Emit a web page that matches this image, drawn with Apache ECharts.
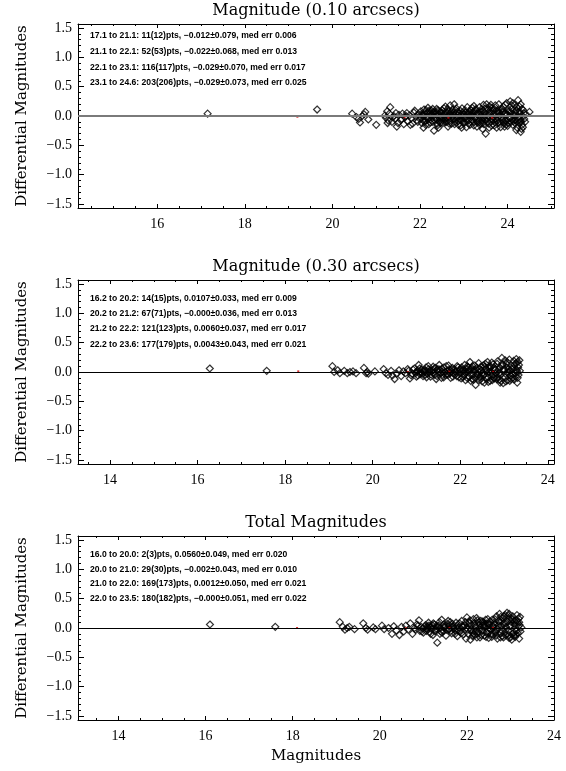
<!DOCTYPE html>
<html><head><meta charset="utf-8">
<script src="https://cdn.jsdelivr.net/npm/echarts@6/dist/echarts.min.js"></script>
<style>html,body{margin:0;padding:0;background:#fff}#c{width:566px;height:771px}</style>
</head><body><div id="c"></div>
<script>
// ---------------- DATA ----------------
const titles = ['Magnitude (0.10 arcsecs)', 'Magnitude (0.30 arcsecs)', 'Total Magnitudes'];
const yName = 'Differential Magnitudes';
const xName = 'Magnitudes';
const yTicks = [-1.5, -1.0, -0.5, 0.0, 0.5, 1.0, 1.5];
const yRange = [-1.568, 1.568];
const xTicks1 = [16, 18, 20, 22, 24];
const xTicks2 = [14, 16, 18, 20, 22, 24];
const xTicks3 = [14, 16, 18, 20, 22, 24];
const xRange1 = [14.19, 25.06];
const xRange2 = [13.27, 24.14];
const xRange3 = [13.07, 24.0];

const annot1 = [
  '17.1 to 21.1: 11(12)pts, \u22120.012\u00b10.079, med err 0.006',
  '21.1 to 22.1: 52(53)pts, \u22120.022\u00b10.068, med err 0.013',
  '22.1 to 23.1: 116(117)pts, \u22120.029\u00b10.070, med err 0.017',
  '23.1 to 24.6: 203(206)pts, \u22120.029\u00b10.073, med err 0.025'
];
const annot2 = [
  '16.2 to 20.2: 14(15)pts, 0.0107\u00b10.033, med err 0.009',
  '20.2 to 21.2: 67(71)pts, \u22120.000\u00b10.036, med err 0.013',
  '21.2 to 22.2: 121(123)pts, 0.0060\u00b10.037, med err 0.017',
  '22.2 to 23.6: 177(179)pts, 0.0043\u00b10.043, med err 0.021'
];
const annot3 = [
  '16.0 to 20.0: 2(3)pts, 0.0560\u00b10.049, med err 0.020',
  '20.0 to 21.0: 29(30)pts, \u22120.002\u00b10.043, med err 0.010',
  '21.0 to 22.0: 169(173)pts, 0.0012\u00b10.050, med err 0.021',
  '22.0 to 23.5: 180(182)pts, \u22120.000\u00b10.051, med err 0.022'
];

const pts1 = [
[17.15,0.04],[19.65,0.11],
[20.45,0.04],[20.55,-0.02],[20.6,-0.05],[20.63,-0.11],[20.68,0.0],[20.72,0.03],[20.75,0.07],[20.82,-0.06],[21.0,-0.15],
[21.2,0.01],[21.22,-0.03],[21.25,0.08],[21.28,-0.08],[21.32,0.15],[21.3,0.04],[21.36,-0.1],[21.4,0.0],[21.43,-0.05],[21.47,-0.18],[21.5,-0.12],[21.52,0.02],[21.56,-0.07],[21.6,0.04],[21.63,-0.14],[21.66,-0.02],[21.7,0.05],[21.72,-0.09],[21.76,0.01],[21.8,-0.04],[21.83,-0.13],[21.86,0.06],[21.9,-0.01],[21.93,-0.07],[21.97,0.03],
[22.0,-0.05],[22.02,0.08],[22.04,-0.12],[22.06,0.02],[22.08,-0.2],[22.1,0.05],[22.12,-0.08],[22.14,0.1],[22.16,-0.02],[22.18,0.14],[22.2,-0.14],[22.22,0.04],[22.24,-0.06],[22.26,0.09],[22.28,-0.1],[22.3,0.0],[22.32,-0.25],[22.34,0.07],[22.36,-0.04],[22.38,0.12],[22.4,-0.16],[22.42,0.03],[22.44,-0.09],[22.46,0.06],[22.48,-0.02],[22.5,0.1],[22.52,-0.12],[22.54,0.01],[22.56,-0.06],[22.58,0.16],[22.6,-0.03],[22.62,0.05],[22.64,-0.18],[22.66,0.08],[22.68,-0.08],[22.7,0.02],[22.72,-0.13],[22.74,0.11],[22.76,-0.05],[22.78,0.2],[22.8,-0.1],[22.82,0.04],[22.84,-0.02],[22.86,0.07],[22.88,-0.15],[22.9,0.0],[22.92,0.09],[22.94,-0.07],[22.96,0.13],[22.98,-0.11],[23.0,0.03],[23.02,-0.04],[23.04,0.06],[23.06,-0.19],[23.08,0.15],[23.1,-0.08],
[22.05,0.0],[22.15,-0.03],[22.25,0.01],[22.35,-0.01],[22.45,-0.03],[22.55,0.03],[22.65,-0.01],[22.75,0.0],[22.85,-0.04],[22.95,0.01],[23.05,-0.02],[22.11,-0.1],[22.31,0.06],[22.51,-0.07],[22.71,0.07],[22.91,-0.06],[22.21,0.09],[22.41,0.1],[22.61,-0.1],[22.81,0.1],[23.01,-0.12],[22.69,0.18],
[23.12,0.04],[23.14,-0.15],[23.16,0.1],[23.18,-0.06],[23.2,0.0],[23.22,-0.1],[23.24,0.08],[23.26,-0.02],[23.28,0.12],[23.3,-0.18],[23.32,0.05],[23.34,-0.05],[23.36,0.15],[23.38,-0.12],[23.4,0.02],[23.42,-0.08],[23.44,0.09],[23.46,-0.14],[23.48,0.0],[23.5,-0.3],[23.52,0.2],[23.54,-0.04],[23.56,0.11],[23.58,-0.2],[23.6,0.06],[23.62,-0.09],[23.64,0.14],[23.66,-0.02],[23.68,0.03],[23.7,-0.16],[23.72,0.18],[23.74,-0.07],[23.76,0.08],[23.78,-0.12],[23.8,0.2],[23.82,0.0],[23.84,-0.19],[23.86,0.1],[23.88,-0.05],[23.9,0.16],[23.92,-0.13],[23.94,0.04],[23.96,-0.08],[23.98,0.22],[24.0,-0.17],[24.02,0.07],[24.04,-0.03],[24.06,0.25],[24.08,-0.1],[24.1,0.12],[24.12,-0.15],[24.14,0.02],[24.16,0.18],[24.18,-0.07],[24.2,0.1],[24.22,-0.2],[24.24,0.27],[24.26,-0.12],[24.28,0.05],[24.3,-0.27],[24.3,0.2],[24.32,-0.22],[24.34,0.0],[24.36,0.1],[24.38,-0.05],[24.42,0.03],[24.5,0.07],
[23.15,0.01],[23.25,-0.04],[23.35,0.02],[23.45,-0.03],[23.55,0.0],[23.65,-0.05],[23.75,0.03],[23.85,-0.02],[23.95,0.05],[24.05,-0.04],[24.15,0.0],[24.25,-0.02],[23.21,0.07],[23.31,-0.11],[23.41,0.12],[23.51,-0.07],[23.61,0.1],[23.71,-0.11],[23.81,0.06],[23.91,-0.1],[24.01,0.09],[24.11,-0.06],[24.21,0.15],[24.31,-0.09],[23.17,-0.1],[23.27,0.1],[23.37,-0.15],[23.47,0.06],[23.57,-0.13],[23.67,0.09],[23.77,-0.08],[23.87,0.12],[23.97,-0.14],[24.07,0.06],[24.17,-0.12],[24.27,0.08],[24.33,-0.15],[24.29,-0.1],
[22.03,0.03],[22.07,-0.07],[22.09,0.11],[22.13,-0.15],[22.17,0.05],[22.19,-0.04],[22.23,-0.11],[22.27,0.03],[22.29,0.12],[22.33,-0.07],[22.37,0.04],[22.39,-0.13],[22.43,0.08],[22.47,-0.12],[22.49,0.05],[22.53,-0.03],[22.57,-0.1],[22.59,0.07],[22.63,0.12],[22.67,-0.13],[22.73,-0.02],[22.77,0.06],[22.79,-0.14],[22.83,0.13],[22.87,-0.09],[22.89,0.04],[22.93,-0.16],[22.97,0.06],[22.99,-0.03],[23.03,0.1],[23.07,-0.06],[23.09,0.02],[23.11,-0.13],[23.13,0.08],[23.19,0.14],[23.23,-0.16],[23.29,0.04],[23.33,-0.09],[23.39,0.08],[23.43,-0.12],[23.49,0.13],[23.53,-0.1],[23.59,0.16],[23.63,-0.16],[23.69,0.12],[23.73,-0.04],[23.79,0.09],[23.83,-0.1],[23.89,0.07],[23.93,-0.18],[23.99,0.02],[24.03,-0.12],[24.09,0.18],[24.13,-0.09],[24.19,0.04],[24.23,-0.08],[24.27,0.16],[24.35,-0.19],[24.37,0.05],[24.4,-0.1],[24.33,0.12],
[23.18,0.02],[23.28,-0.05],[23.38,0.06],[23.48,-0.06],[23.58,0.04],[23.68,-0.07],[23.78,0.05],[23.88,-0.07],[23.98,0.04],[24.08,-0.02],[24.18,0.08],[24.28,-0.05],[22.08,0.02],[22.18,-0.06],[22.28,0.05],[22.38,-0.06],[22.48,0.07],[22.58,-0.05],[22.68,0.04],[22.78,-0.06],[22.88,0.05],[22.98,-0.07],[23.08,0.05],[21.95,-0.1],[21.88,0.09],[21.78,-0.15],[21.68,0.0],[21.58,-0.05],[21.45,0.05],[21.38,-0.02],[21.26,-0.12],[23.23,0.17],[23.45,0.19],[23.62,0.19],[23.75,-0.2],[23.95,0.19],[24.12,0.22],[24.2,-0.24],[23.43,-0.22],[22.95,-0.2],[22.55,0.13],[22.42,-0.2]
];
const med1 = [[19.2,-0.012],[21.65,-0.022],[22.65,-0.029],[23.65,-0.029]];

const pts2 = [
[16.28,0.06],[17.58,0.02],
[19.08,0.1],[19.12,0.0],[19.2,0.03],[19.25,-0.02],[19.35,0.02],[19.42,-0.02],[19.48,0.0],[19.55,0.01],[19.62,-0.02],[19.8,0.07],[19.85,-0.02],[19.88,0.0],[19.9,-0.03],[20.05,0.01],[20.25,0.05],[20.3,-0.02],[20.35,-0.05],[20.42,0.02],[20.45,-0.06],[20.5,-0.12],[20.55,-0.03],[20.6,0.03],[20.65,-0.07],[20.7,0.01],[20.75,-0.02],[20.8,0.05],[20.85,-0.11],[20.9,-0.03],[20.95,0.06],[21.0,-0.08],[21.02,0.02],[21.05,0.12],[21.08,-0.04],[21.12,0.04],[21.15,-0.07],[21.18,0.0],[21.22,0.08],[21.25,-0.03],[21.28,0.05],[21.32,-0.08],[21.35,0.01],[21.38,0.09],[21.42,-0.05],[21.45,-0.12],[21.48,0.03],[21.52,0.12],[21.55,-0.02],[21.58,0.06],[21.62,-0.09],[21.65,0.0],[21.68,0.1],[21.72,-0.05],[21.75,0.04],[21.78,-0.1],[21.82,0.07],[21.85,-0.03],[21.88,0.01],[21.92,-0.07],[21.95,0.08],[21.98,-0.02],
[22.0,0.05],[22.02,-0.11],[22.05,0.03],[22.08,-0.06],[22.1,0.12],[22.12,-0.14],[22.15,0.0],[22.18,0.08],[22.2,-0.08],[22.22,0.17],[22.25,-0.03],[22.28,0.1],[22.3,-0.13],[22.32,0.04],[22.35,-0.22],[22.38,0.07],[22.4,-0.05],[22.42,0.15],[22.45,-0.1],[22.48,0.02],[22.5,-0.16],[22.52,0.11],[22.55,-0.04],[22.58,0.06],[22.6,-0.12],[22.62,0.17],[22.65,0.0],[22.68,-0.15],[22.7,0.09],[22.72,-0.07],[22.75,0.13],[22.78,-0.11],[22.8,0.05],[22.82,-0.02],[22.85,0.18],[22.88,-0.13],[22.9,0.08],[22.92,-0.05],[22.95,0.24],[22.98,-0.19],[23.0,0.03],[23.02,-0.09],[23.05,0.14],[23.08,-0.14],[23.1,0.05],[23.12,0.21],[23.15,-0.06],[23.18,0.1],[23.2,-0.1],[23.22,0.19],[23.25,-0.02],[23.28,0.22],[23.3,-0.18],[23.32,0.08],[23.35,0.2],[23.36,0.02],[23.33,-0.05],
[21.1,-0.01],[21.3,0.02],[21.5,-0.01],[21.7,0.02],[21.9,0.0],[22.1,0.0],[22.3,0.01],[22.5,-0.02],[22.7,0.01],[22.9,-0.01],[23.1,0.0],[23.3,0.0],[21.2,-0.05],[21.4,0.05],[21.6,-0.05],[21.8,0.05],[22.06,-0.09],[22.26,0.07],[22.46,-0.08],[22.66,0.06],[22.86,-0.09],[23.06,0.08],[23.26,-0.07],[22.16,0.1],[22.36,-0.1],[22.56,0.09],[22.76,-0.1],[22.96,0.11],[23.16,-0.12],[22.24,-0.15],[22.64,-0.17],[22.84,0.14],[23.04,-0.16],[23.24,0.12],[22.44,0.05],[22.74,-0.04],[23.14,0.03],
[20.82,0.02],[20.88,-0.06],[20.92,0.04],[20.98,-0.02],[21.03,-0.06],[21.07,0.06],[21.13,-0.03],[21.17,0.03],[21.23,-0.09],[21.27,0.1],[21.33,-0.04],[21.37,0.03],[21.43,0.07],[21.47,-0.07],[21.53,0.04],[21.57,-0.1],[21.63,0.08],[21.67,-0.05],[21.73,0.11],[21.77,-0.02],[21.83,-0.08],[21.87,0.05],[21.93,0.1],[21.97,-0.09],[22.03,0.08],[22.07,0.02],[22.13,0.06],[22.17,-0.11],[22.23,0.04],[22.27,-0.12],[22.33,0.11],[22.37,-0.03],[22.43,-0.14],[22.47,0.09],[22.53,-0.06],[22.57,0.14],[22.63,-0.09],[22.67,0.1],[22.73,-0.14],[22.77,0.07],[22.83,-0.12],[22.87,0.04],[22.93,-0.15],[22.97,0.13],[23.03,-0.03],[23.07,0.17],[23.13,-0.15],[23.17,0.06],[23.23,-0.13],[23.27,0.15],[23.31,-0.1],[23.34,0.12],[23.29,0.03],[23.19,-0.04],[23.09,-0.02],[22.99,0.05],[22.89,-0.03],[22.79,0.03],[22.69,-0.02],[22.59,0.02],[22.49,-0.04],[22.39,0.02],[22.29,-0.05],[22.19,0.03],[22.09,-0.03],[21.99,0.03],[21.89,-0.04],[21.79,0.02],[21.69,-0.03],[21.59,0.01],[21.49,0.05],[21.39,-0.02],[21.29,-0.01],[21.19,0.03],[21.09,0.01],[20.99,0.0],[23.02,0.2],[22.91,-0.18],[22.72,0.16],[22.55,-0.18],[23.21,0.06],[23.31,0.17]
];
const med2 = [[18.3,0.0107],[20.8,0.0],[21.75,0.006],[22.75,0.004]];

const pts3 = [
[16.1,0.06],[17.6,0.02],
[19.08,0.1],[19.15,0.02],[19.2,-0.03],[19.25,0.0],[19.3,0.02],[19.42,-0.02],[19.62,0.08],[19.68,0.0],[19.72,-0.03],[19.85,0.01],[19.9,-0.02],[20.05,0.04],[20.1,-0.02],[20.2,0.0],[20.28,-0.1],[20.32,0.03],[20.38,-0.04],[20.45,-0.12],[20.5,0.02],[20.55,-0.06],[20.6,0.04],[20.65,-0.03],[20.7,0.08],[20.75,-0.1],[20.8,0.0],[20.85,0.06],[20.9,0.13],[20.92,-0.05],[20.95,0.02],[21.0,-0.08],[21.05,0.05],[21.08,-0.02],[21.12,0.09],[21.15,-0.07],[21.18,0.02],[21.22,-0.12],[21.25,0.06],[21.28,-0.03],[21.32,-0.25],[21.35,0.04],[21.38,-0.1],[21.42,0.14],[21.45,-0.05],[21.48,0.02],[21.52,-0.13],[21.55,0.07],[21.58,-0.02],[21.62,0.1],[21.65,-0.09],[21.68,0.03],[21.72,-0.04],[21.75,0.09],[21.78,-0.14],[21.82,0.01],[21.85,-0.06],[21.88,0.12],[21.92,-0.11],[21.95,0.05],[21.98,-0.18],
[22.0,0.18],[22.02,-0.03],[22.05,0.1],[22.08,-0.2],[22.1,0.05],[22.12,-0.08],[22.15,0.15],[22.18,-0.12],[22.2,0.02],[22.22,0.17],[22.25,-0.1],[22.28,0.06],[22.3,-0.16],[22.32,0.12],[22.35,-0.04],[22.38,0.09],[22.4,-0.13],[22.42,0.02],[22.45,-0.07],[22.48,0.15],[22.5,-0.17],[22.52,0.06],[22.55,-0.02],[22.58,0.14],[22.6,-0.11],[22.62,0.09],[22.65,-0.06],[22.68,0.2],[22.7,-0.18],[22.72,0.04],[22.75,0.24],[22.78,-0.09],[22.8,0.12],[22.82,-0.14],[22.85,0.07],[22.88,0.22],[22.9,-0.12],[22.92,0.26],[22.95,-0.05],[22.98,0.15],[23.0,-0.16],[23.02,0.1],[23.05,0.2],[23.08,-0.08],[23.1,0.06],[23.12,-0.12],[23.15,0.22],[23.18,0.03],[23.2,-0.18],[23.22,0.19],[23.25,0.01],[23.2,0.1],
[21.1,0.0],[21.3,-0.01],[21.5,0.01],[21.7,-0.01],[21.9,0.02],[22.1,-0.02],[22.3,0.01],[22.5,0.0],[22.7,-0.01],[22.9,0.02],[23.1,-0.02],[21.2,0.05],[21.4,-0.06],[21.6,0.05],[21.8,-0.05],[22.06,0.08],[22.26,-0.07],[22.46,0.08],[22.66,-0.08],[22.86,0.09],[23.06,-0.09],[22.16,-0.1],[22.36,0.11],[22.56,-0.11],[22.76,0.1],[22.96,-0.12],[23.16,0.1],[22.24,0.13],[22.44,-0.15],[22.64,0.15],[22.84,-0.16],[23.04,0.14],[22.2,-0.05],[22.4,0.06],[22.6,0.03],[22.8,-0.04],[23.0,0.05],[23.14,-0.05],
[20.82,-0.03],[20.88,0.04],[20.97,-0.06],[21.03,0.02],[21.07,-0.05],[21.13,0.04],[21.17,-0.1],[21.23,0.08],[21.27,-0.06],[21.33,0.03],[21.37,0.1],[21.43,-0.08],[21.47,0.06],[21.53,-0.03],[21.57,0.12],[21.63,-0.05],[21.67,0.07],[21.73,-0.1],[21.77,0.04],[21.83,0.08],[21.87,-0.09],[21.93,0.03],[21.97,0.1],[22.03,-0.1],[22.07,0.13],[22.13,-0.14],[22.17,0.08],[22.23,-0.16],[22.27,0.1],[22.33,-0.12],[22.37,0.05],[22.43,0.14],[22.47,-0.1],[22.53,0.11],[22.57,-0.15],[22.63,0.06],[22.67,-0.13],[22.73,0.12],[22.77,-0.16],[22.83,0.17],[22.87,-0.08],[22.93,0.1],[22.97,-0.17],[23.03,0.16],[23.07,-0.13],[23.13,0.13],[23.17,-0.09],[23.21,0.05],[23.23,-0.06],[23.19,0.16],[23.09,0.12],[22.99,0.03],[22.89,-0.03],[22.79,0.04],[22.69,-0.03],[22.59,0.03],[22.49,-0.04],[22.39,0.02],[22.29,-0.03],[22.19,0.04],[22.09,-0.04],[21.99,0.0],[21.89,0.03],[21.79,-0.02],[21.69,0.02],[21.59,-0.03],[21.49,0.03],[21.39,0.0],[21.29,0.03],[21.19,-0.02],[21.09,0.03],[20.99,-0.01],[22.95,0.21],[22.78,0.19],[23.03,-0.2],[22.85,0.2],[23.11,-0.15],[22.97,0.24]
];
const med3 = [[18.1,0.0],[20.6,-0.002],[21.6,0.0012],[22.6,0.0]];

// ---------------- LAYOUT ----------------
const L = 78, W = 476, H = 184;
const tops = [24, 280, 536];
const annotOffsets = [[12, 28, 43.5, 58.5], [18.5, 34, 49, 64.5], [18.5, 33.5, 48, 62.5]];
const TICKFONT = '"Liberation Serif"';
const SERIF = '"DejaVu Serif"';

const panels = [
  {pts: pts1, med: med1, xr: xRange1, xt: xTicks1, ann: annot1, zc: '#7a7a7a', zw: 2},
  {pts: pts2, med: med2, xr: xRange2, xt: xTicks2, ann: annot2, zc: '#000', zw: 1},
  {pts: pts3, med: med3, xr: xRange3, xt: xTicks3, ann: annot3, zc: '#000', zw: 1}
];

function steps(a, b, s) {
  const out = [];
  for (let k = Math.ceil(a / s - 1e-9); k * s <= b + 1e-9; k++) out.push(+(k * s).toFixed(4));
  return out;
}
const yMinor = steps(-1.5, 1.5, 0.1);
const fmtY = v => (v < -1e-9 ? '\u2212' : '') + Math.abs(v).toFixed(1);

const grid = [], xAxis = [], yAxis = [], series = [], graphic = [];
const lineBlack = {show: true, onZero: false, lineStyle: {color: '#000', width: 1}};

panels.forEach((p, i) => {
  grid.push({left: L, top: tops[i], width: W, height: H});
  const xMinor = steps(p.xr[0], p.xr[1], 0.5);
  const baseX = {gridIndex: i, type: 'value', min: p.xr[0], max: p.xr[1], splitLine: {show: false}};
  const baseY = {gridIndex: i, type: 'value', min: yRange[0], max: yRange[1], splitLine: {show: false}};
  const xi = xAxis.length, yi = yAxis.length;
  xAxis.push(Object.assign({}, baseX, {position: 'bottom', axisLine: lineBlack,
    axisTick: {show: true, inside: true, length: 4, customValues: p.xt, lineStyle: {color: '#000'}},
    axisLabel: {show: true, customValues: p.xt, color: '#000', fontFamily: TICKFONT, fontSize: 14, margin: 9,
      formatter: v => String(Math.round(v))}}));
  xAxis.push(Object.assign({}, baseX, {position: 'bottom', axisLine: {show: false, onZero: false},
    axisTick: {show: true, inside: true, length: 2, customValues: xMinor, lineStyle: {color: '#000'}},
    axisLabel: {show: false}}));
  xAxis.push(Object.assign({}, baseX, {position: 'top', axisLine: lineBlack,
    axisTick: {show: true, inside: true, length: 4, customValues: p.xt, lineStyle: {color: '#000'}},
    axisLabel: {show: false}}));
  xAxis.push(Object.assign({}, baseX, {position: 'top', axisLine: {show: false, onZero: false},
    axisTick: {show: true, inside: true, length: 2, customValues: xMinor, lineStyle: {color: '#000'}},
    axisLabel: {show: false}}));
  yAxis.push(Object.assign({}, baseY, {position: 'left', axisLine: lineBlack,
    axisTick: {show: true, inside: true, length: 6, customValues: yTicks, lineStyle: {color: '#000'}},
    axisLabel: {show: true, customValues: yTicks, color: '#000', fontFamily: TICKFONT, fontSize: 14, margin: 6,
      formatter: fmtY}}));
  yAxis.push(Object.assign({}, baseY, {position: 'left', axisLine: {show: false, onZero: false},
    axisTick: {show: true, inside: true, length: 3, customValues: yMinor, lineStyle: {color: '#000'}},
    axisLabel: {show: false}}));
  yAxis.push(Object.assign({}, baseY, {position: 'right', axisLine: lineBlack,
    axisTick: {show: true, inside: true, length: 6, customValues: yTicks, lineStyle: {color: '#000'}},
    axisLabel: {show: false}}));
  yAxis.push(Object.assign({}, baseY, {position: 'right', axisLine: {show: false, onZero: false},
    axisTick: {show: true, inside: true, length: 3, customValues: yMinor, lineStyle: {color: '#000'}},
    axisLabel: {show: false}}));

  series.push({type: 'scatter', xAxisIndex: xi, yAxisIndex: yi, data: [], z: 1, silent: true,
    markLine: {silent: true, symbol: 'none', label: {show: false}, animation: false,
      lineStyle: {color: p.zc, width: p.zw, type: 'solid'}, data: [{yAxis: 0}]}});
  series.push({type: 'scatter', xAxisIndex: xi, yAxisIndex: yi, data: p.pts, z: 2, silent: true,
    symbol: 'diamond', symbolSize: [7, 7],
    itemStyle: {color: 'rgba(0,0,0,0)', borderColor: '#000', borderWidth: 1.2}});
  series.push({type: 'scatter', xAxisIndex: xi, yAxisIndex: yi, data: p.med, z: 3, silent: true,
    symbol: 'rect', symbolSize: 2, itemStyle: {color: '#d00000'}});

  graphic.push({type: 'text', x: L + W / 2, y: tops[i] - 13, silent: true,
    style: {text: titles[i], fill: '#000', font: '16px ' + SERIF, align: 'center', verticalAlign: 'middle'}});
  graphic.push({type: 'text', x: 22, y: tops[i] + H / 2, rotation: Math.PI / 2, silent: true,
    style: {text: yName, fill: '#000', font: '15px ' + SERIF, align: 'center', verticalAlign: 'middle'}});
  p.ann.forEach((t, k) => {
    graphic.push({type: 'text', x: 90, y: tops[i] + annotOffsets[i][k], silent: true,
      style: {text: t, fill: '#000', font: 'bold 8.6px "Liberation Sans"', align: 'left', verticalAlign: 'middle'}});
  });
});
graphic.push({type: 'text', x: L + W / 2, y: 756, silent: true,
  style: {text: xName, fill: '#000', font: '15px ' + SERIF, align: 'center', verticalAlign: 'middle'}});

const chart = echarts.init(document.getElementById('c'), null, {renderer: 'canvas'});
chart.setOption({
  animation: false,
  backgroundColor: '#fff',
  grid, xAxis, yAxis, series, graphic
});
</script></body></html>
